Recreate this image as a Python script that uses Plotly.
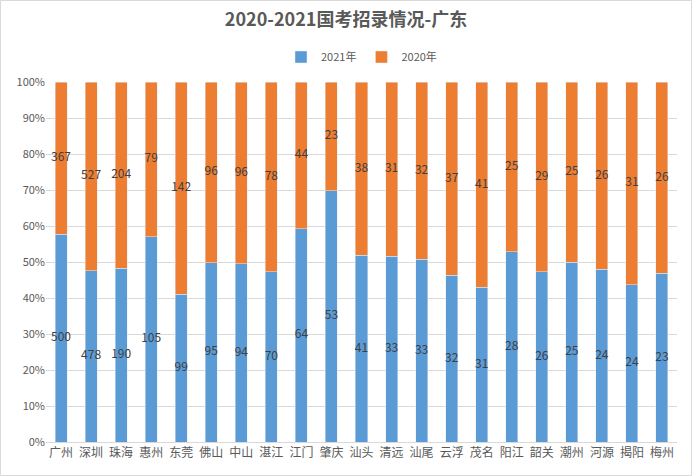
import plotly.graph_objects as go

cities = ["广州", "深圳", "珠海", "惠州", "东莞", "佛山", "中山", "湛江", "江门", "肇庆",
          "汕头", "清远", "汕尾", "云浮", "茂名", "阳江", "韶关", "潮州", "河源", "揭阳", "梅州"]
v2021 = [500, 478, 190, 105, 99, 95, 94, 70, 64, 53, 41, 33, 33, 32, 31, 28, 26, 25, 24, 24, 23]
v2020 = [367, 527, 204, 79, 142, 96, 96, 78, 44, 23, 38, 31, 32, 37, 41, 25, 29, 25, 26, 31, 26]

FONT = "Noto Sans CJK SC, Noto Sans, sans-serif"
blue = "#5b9bd5"
orange = "#ed7d31"

pct21 = [a / (a + b) * 100 for a, b in zip(v2021, v2020)]
pct20 = [100 - p for p in pct21]
mid21 = [p / 2 for p in pct21]
mid20 = [p + q / 2 for p, q in zip(pct21, pct20)]

fig = go.Figure()
fig.add_trace(go.Bar(x=cities, y=pct21, name="2021年", marker_color=blue, hoverinfo="skip"))
fig.add_trace(go.Bar(x=cities, y=pct20, name="2020年", marker_color=orange, hoverinfo="skip"))
fig.add_trace(go.Scatter(x=cities, y=mid21, mode="text", text=[str(v) for v in v2021],
                         textfont=dict(size=12, color="#404040", family=FONT), showlegend=False,
                         hoverinfo="skip"))
fig.add_trace(go.Scatter(x=cities, y=mid20, mode="text", text=[str(v) for v in v2020],
                         textfont=dict(size=12, color="#404040", family=FONT), showlegend=False,
                         hoverinfo="skip"))

L, R, T, B = 46, 15, 82, 34
PW, PH = 692 - L - R, 476 - T - B

fig.update_layout(
    width=692, height=476,
    barmode="stack", bargap=0.6,
    paper_bgcolor="white", plot_bgcolor="white",
    margin=dict(l=L, r=R, t=T, b=B),
    font=dict(family=FONT, color="#595959", size=11),
    title=dict(text="<b>2020-2021国考招录情况-广东</b>", x=0.5, xanchor="center",
               y=1 - 20 / 476, yanchor="middle",
               font=dict(size=18, color="#595959", family=FONT)),
    legend=dict(orientation="h", x=0.5, xanchor="center", y=1 + 25 / PH, yanchor="middle",
                font=dict(size=11, color="#595959"), traceorder="normal"),
    xaxis=dict(range=[-0.5, len(cities) - 0.5], autorange=False, showgrid=False,
               showline=True, linecolor="#d9d9d9", ticks="",
               tickfont=dict(size=12, color="#595959")),
    yaxis=dict(range=[0, 100], dtick=10, ticksuffix="%", showgrid=True, gridcolor="#d9d9d9",
               zeroline=False, showline=False, tickfont=dict(size=11, color="#595959")),
    shapes=[dict(type="rect", xref="paper", yref="paper",
                 x0=-(L - 0.5) / PW, x1=1 + (R - 0.5) / PW, y0=-(B - 0.5) / PH, y1=1 + (T - 0.5) / PH,
                 line=dict(color="#d9d9d9", width=1), fillcolor="rgba(0,0,0,0)", layer="below")],
)

fig.write_html("out.html", config={"displayModeBar": False},
               post_script="document.body.style.margin='0';")
